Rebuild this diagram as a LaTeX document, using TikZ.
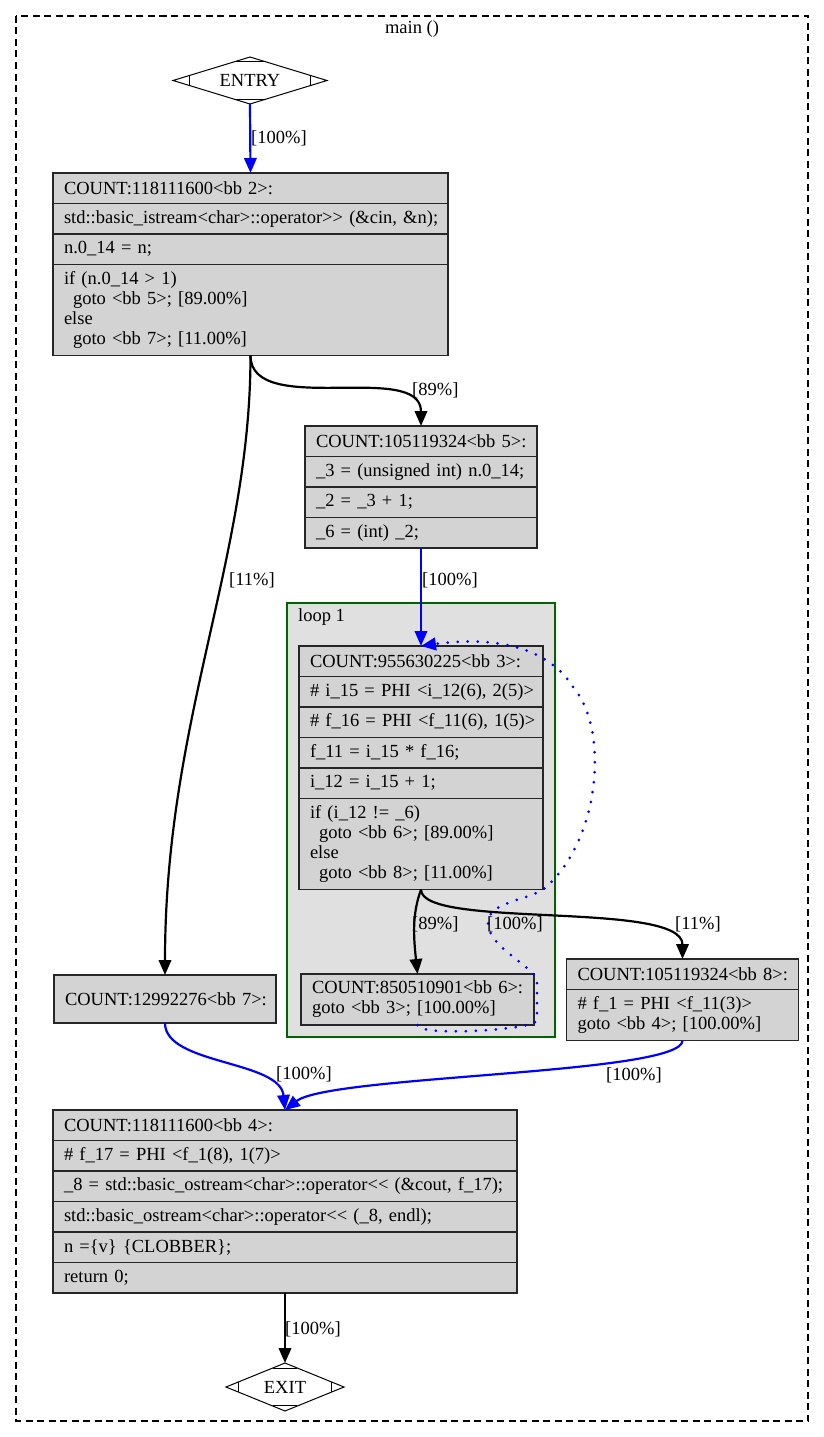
\documentclass[tikz,border=0pt]{standalone}
\usepackage{fontspec}
\setmainfont{Liberation Serif}[Ligatures=TeXOff]
\usetikzlibrary{calc,positioning,shapes.geometric,arrows.meta}
\definecolor{bbgray}{HTML}{D3D3D3}
\definecolor{loopgray}{HTML}{E0E0E0}
\definecolor{loopgreen}{HTML}{006400}
\newcommand{\cfgline}[1]{\mbox{#1}}
\def\mdcorners(#1){%
  \draw[line width=1pt] ($(#1.north)!0.21!(#1.west)$) -- ($(#1.north)!0.21!(#1.east)$);
  \draw[line width=1pt] ($(#1.south)!0.21!(#1.west)$) -- ($(#1.south)!0.21!(#1.east)$);
  \draw[line width=1pt] ($(#1.west)!0.21!(#1.north)$) -- ($(#1.west)!0.21!(#1.south)$);
  \draw[line width=1pt] ($(#1.east)!0.21!(#1.north)$) -- ($(#1.east)!0.21!(#1.south)$);}

\begin{document}
\begin{tikzpicture}[x=1pt, y=-1pt,
  every node/.style={font=\fontsize{18.5}{20}\selectfont},
  bbrow/.style={draw=black!85, fill=bbgray, line width=1.2pt, inner xsep=11pt, inner ysep=0pt,
    outer sep=0pt, align=left, text width=#1pt, minimum height=30.5pt},
  mdiamond/.style={diamond, draw, fill=white, line width=1pt, aspect=3, inner sep=0pt, outer sep=0pt},
  cfgedge/.style={line width=2.2pt, -{Triangle[length=15pt,width=12.5pt]}},
  hotedge/.style={cfgedge, blue},
  backedge/.style={hotedge, line width=3pt, dash pattern=on 0pt off 10pt, line cap=round},
  elabel/.style={anchor=west, inner sep=0pt}]
  %%%%% START %%%%%

  \useasboundingbox (0,0) rectangle (824,1437);

  % clusters
  \draw[line width=1.2pt, dash pattern=on 7pt off 4.5pt] (16,16) rectangle (808,1421);
  \node (mainlbl) at (412,29) {main ()};
  \draw[fill=loopgray, draw=loopgreen, line width=2.4pt] (287,603) rectangle (555,1037);
  \node[elabel] (looplbl) at (298,617) {loop 1};

  % entry / exit
  \node[mdiamond, minimum width=154pt, minimum height=47pt] (entry) at (250,80.5) {ENTRY};
  \mdcorners(entry)
  \node[mdiamond, minimum width=118pt, minimum height=48pt] (exit) at (285,1387) {EXIT};
  \mdcorners(exit)

  % bb 2
  \node[bbrow=373, anchor=north west] (bb2a) at (53,173) {\cfgline{COUNT:118111600<bb 2>:}};
  \node[bbrow=373, below=0pt of bb2a] (bb2b) {\cfgline{std::basic\_istream<char>::operator>> (\&cin, \&n);}};
  \node[bbrow=373, below=0pt of bb2b] (bb2c) {\cfgline{n.0\_14 = n;}};
  \node[bbrow=373, below=0pt of bb2c, minimum height=91pt] (bb2d) {if (n.0\_14 > 1)\\
    \hspace*{9pt}\cfgline{goto <bb 5>; [89.00\%]}\\else\\\hspace*{9pt}\cfgline{goto <bb 7>; [11.00\%]}};

  % bb 5
  \node[bbrow=210, anchor=north west] (bb5a) at (305,426) {\cfgline{COUNT:105119324<bb 5>:}};
  \node[bbrow=210, below=0pt of bb5a] (bb5b) {\cfgline{\_3 = (unsigned int) n.0\_14;}};
  \node[bbrow=210, below=0pt of bb5b] (bb5c) {\cfgline{\_2 = \_3 + 1;}};
  \node[bbrow=210, below=0pt of bb5c] (bb5d) {\cfgline{\_6 = (int) \_2;}};

  % bb 3
  \node[bbrow=222, anchor=north west] (bb3a) at (299,646) {\cfgline{COUNT:955630225<bb 3>:}};
  \node[bbrow=222, below=0pt of bb3a] (bb3b) {\cfgline{\# i\_15 = PHI <i\_12(6), 2(5)>}};
  \node[bbrow=222, below=0pt of bb3b] (bb3c) {\cfgline{\# f\_16 = PHI <f\_11(6), 1(5)>}};
  \node[bbrow=222, below=0pt of bb3c] (bb3d) {\cfgline{f\_11 = i\_15 * f\_16;}};
  \node[bbrow=222, below=0pt of bb3d] (bb3e) {\cfgline{i\_12 = i\_15 + 1;}};
  \node[bbrow=222, below=0pt of bb3e, minimum height=91pt] (bb3f) {\cfgline{if (i\_12 != \_6)}\\
    \hspace*{9pt}\cfgline{goto <bb 6>; [89.00\%]}\\else\\\hspace*{9pt}\cfgline{goto <bb 8>; [11.00\%]}};

  % bb 6
  \node[bbrow=211, anchor=north west, minimum height=51pt] (bb6) at (301,974)
    {\cfgline{COUNT:850510901<bb 6>:}\\\cfgline{goto <bb 3>; [100.00\%]}};

  % bb 7
  \node[bbrow=200, anchor=north west, minimum height=48pt] (bb7) at (54,975) {\cfgline{COUNT:12992276<bb 7>:}};

  % bb 8
  \node[bbrow=210, anchor=north west] (bb8a) at (566.5,959) {\cfgline{COUNT:105119324<bb 8>:}};
  \node[bbrow=210, below=0pt of bb8a, minimum height=51pt] (bb8b)
    {\cfgline{\# f\_1 = PHI <f\_11(3)>}\\\cfgline{goto <bb 4>; [100.00\%]}};

  % bb 4
  \node[bbrow=442, anchor=north west] (bb4a) at (53,1110) {\cfgline{COUNT:118111600<bb 4>:}};
  \node[bbrow=442, below=0pt of bb4a] (bb4b) {\cfgline{\# f\_17 = PHI <f\_1(8), 1(7)>}};
  \node[bbrow=442, below=0pt of bb4b] (bb4c) {\cfgline{\_8 = std::basic\_ostream<char>::operator<< (\&cout, f\_17);}};
  \node[bbrow=442, below=0pt of bb4c] (bb4d) {\cfgline{std::basic\_ostream<char>::operator<< (\_8, endl);}};
  \node[bbrow=442, below=0pt of bb4d] (bb4e) {\cfgline{n =\{v\} \{CLOBBER\};}};
  \node[bbrow=442, below=0pt of bb4e] (bb4f) {\cfgline{return 0;}};

  % edges
  \draw[hotedge] (entry.south) -- (bb2a.north);
  \draw[cfgedge] (bb2d.south) .. controls +(0,63) and +(0,-66) .. (bb5a.north);
  \draw[cfgedge] (bb2d.south) .. controls +(0,203) and +(0,-255) .. (bb7.north);
  \draw[hotedge] (bb5d.south) -- (bb3a.north);
  \draw[cfgedge] (bb3f.south) .. controls +(-9,25) and +(-4,-38) .. (bb6.north);
  \draw[cfgedge] (bb3f.south) .. controls +(0,40) and +(0,-59) .. (bb8a.north);
  \draw[backedge] (bb6.south) .. controls +(0,12) and +(0,10) .. (537,1020) -- (537,978)
    .. controls (520,958) and (488,945) .. (488,922) .. controls (488,902) and (530,900) .. (545,888)
    .. controls (600,840) and (610,730) .. (573,687) .. controls (550,650) and (500,635) .. (bb3a.north);
  \draw[hotedge] (bb7.south) .. controls +(0,42) and +(-5,-50) .. (bb4a.north);
  \draw[hotedge] (bb8b.south) .. controls +(0,34) and +(45,-35) .. (bb4a.north);
  \draw[cfgedge] (bb4f.south) -- (exit.north);

  % edge labels
  \node[elabel] (lentry) at (251,138) {[100\%]};
  \node[elabel] (lbbfive) at (412,390) {[89\%]};
  \node[elabel] (lbbseven) at (229,580) {[11\%]};
  \node[elabel] (lbbthree) at (422,580) {[100\%]};
  \node[elabel] (lbbsix) at (412,924) {[89\%]};
  \node[elabel] (lback) at (487,924) {[100\%]};
  \node[elabel] (lbbeight) at (675,924) {[11\%]};
  \node[elabel] (lsevenfour) at (276,1074) {[100\%]};
  \node[elabel] (leightfour) at (606,1075) {[100\%]};
  \node[elabel] (lexit) at (285,1329) {[100\%]};

  %%%%% END %%%%%
\end{tikzpicture}
\end{document}
